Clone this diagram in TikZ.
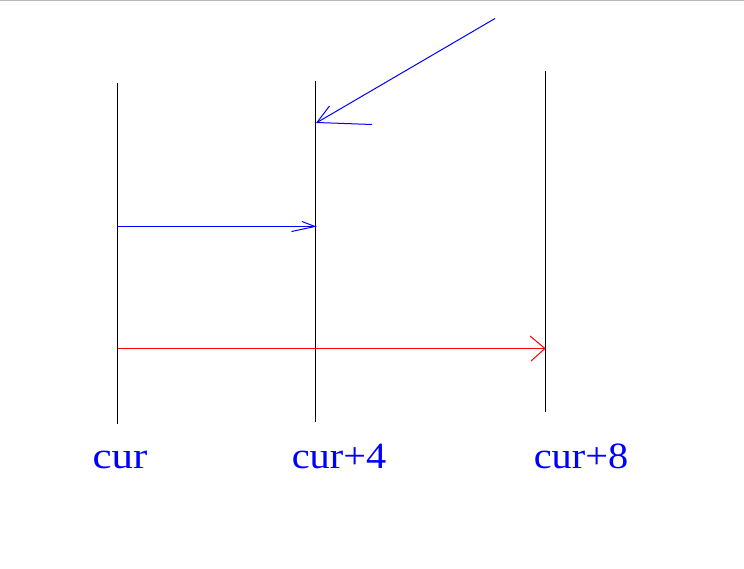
\documentclass[tikz,border=0pt]{standalone}
\usepackage{fontspec}
\setmainfont{Liberation Serif}
\begin{document}
\begin{tikzpicture}[x=1pt,y=-1pt,
  vline/.style={black,line width=1pt},
  bline/.style={blue,line width=1pt},
  rline/.style={red,line width=1pt},
  lab/.style={blue,anchor=base,inner sep=0pt,font=\fontsize{37}{40}\selectfont}]
\useasboundingbox (0,0) rectangle (744,568);
\fill[white] (0,0) rectangle (744,568);
\draw[line width=1.2pt,black!28] (0,0.6) -- (744,0.6);
% vertical lines
\coordinate (a1) at (117.5,83); \coordinate (a2) at (117.5,424);
\coordinate (b1) at (315.5,81); \coordinate (b2) at (315.5,422);
\coordinate (c1) at (545.5,71); \coordinate (c2) at (545.5,411.5);
\draw[vline] (a1) -- (a2);
\draw[vline] (b1) -- (b2);
\draw[vline] (c1) -- (c2);
% blue horizontal arrow
\coordinate (h1) at (117.5,226.5); \coordinate (h2) at (315,226.5);
\coordinate (h3) at (302,221.5); \coordinate (h4) at (291.5,231.5);
\draw[bline] (h1) -- (h2);
\draw[bline] (h3) -- (h2) -- (h4);
% red horizontal arrow
\coordinate (r1) at (117.5,348.5); \coordinate (r2) at (545,348.5);
\coordinate (r3) at (530,336); \coordinate (r4) at (531,361);
\draw[rline] (r1) -- (r2);
\draw[rline] (r3) -- (r2) -- (r4);
% diagonal blue arrow
\coordinate (d1) at (495,18.5); \coordinate (d2) at (317,122.5);
\coordinate (d3) at (329.5,106); \coordinate (d4) at (372,124.5);
\draw[bline] (d1) -- (d2);
\draw[bline] (d3) -- (d2) -- (d4);
% labels
\node[lab] (l1) at (120,468.5) {\scalebox{1.16}[1]{cur}};
\node[lab] (l2) at (339,468.5) {\scalebox{1.09}[1]{cur+4}};
\node[lab] (l3) at (581,468.5) {\scalebox{1.09}[1]{cur+8}};
\end{tikzpicture}
\end{document}
